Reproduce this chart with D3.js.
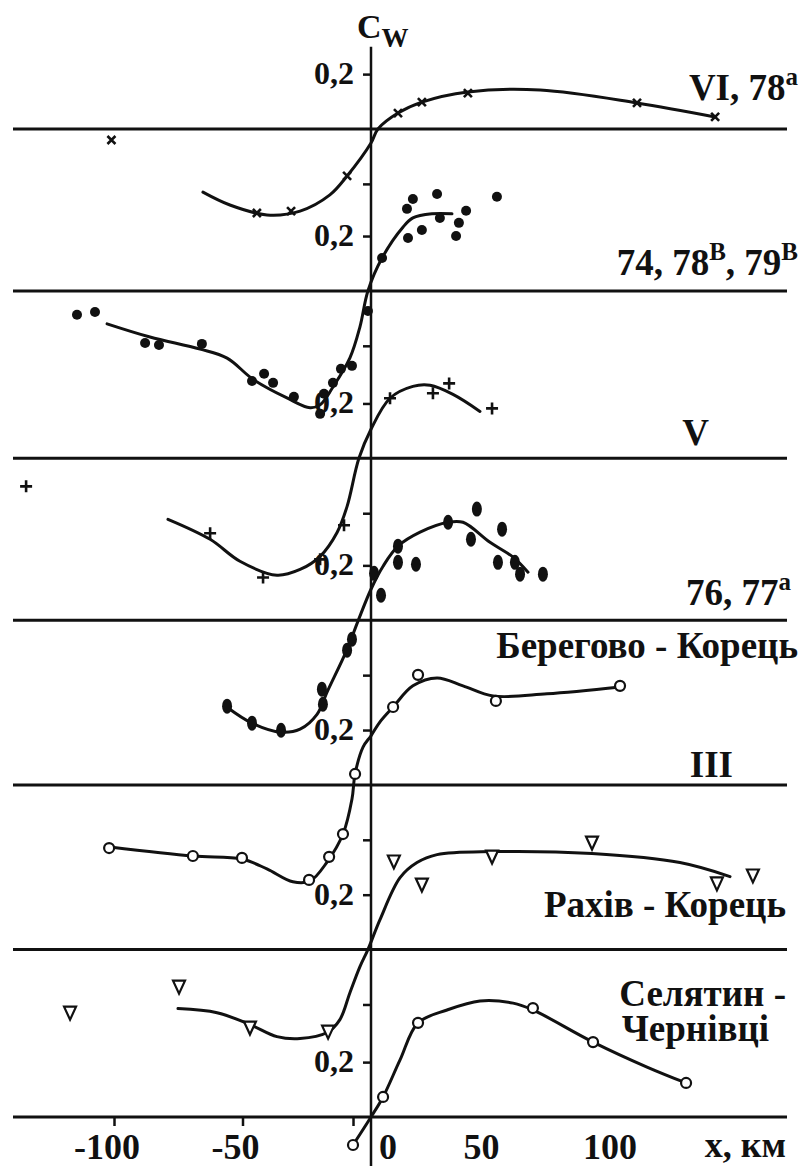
<!DOCTYPE html>
<html>
<head>
<meta charset="utf-8">
<script src="https://cdn.jsdelivr.net/npm/d3@7"></script>
<style>
  body { margin: 0; background: #fff; }
  svg { display: block; }
  text { font-family: "Liberation Serif", "Times New Roman", serif; font-weight: bold; fill: #111; }
</style>
</head>
<body>
<svg id="chart" width="799" height="1166"></svg>
<script>
// ---- axes --------------------------------------------------------------
const xTickValues = [-100, -50, -7];
const xTickLabels = [-100, -50, 0, 50, 100];
const yTickStep = 0.2;

// zero level of every stacked profile (Cw units, top to bottom)
const panelOffsets = [0, -0.59, -1.2, -1.79, -2.39, -2.99, -3.6];

// ---- profiles: [x km, Cw] ------------------------------------------------
// VI, 78a  (crosses)
const vi78Points = [[-101, -0.04], [-44.4, -0.306], [-31.1, -0.299], [-9.3, -0.171], [10.5, 0.058],
  [19.8, 0.098], [37.7, 0.131], [103.5, 0.095], [133.9, 0.044]];
const vi78Curve = [[-65.4, -0.23], [-54.9, -0.277], [-40.5, -0.313], [-27.6, -0.299], [-16, -0.24],
  [-9.3, -0.171], [0, -0.051], [2.7, 0], [10.5, 0.058], [19.8, 0.098], [37.7, 0.135], [65.8, 0.142],
  [103.5, 0.095], [133.9, 0.044]];

// 74, 78в, 79в  (dots)
const p74Points = [[-114.4, -0.087], [-107.4, -0.077], [-87.9, -0.19], [-82.5, -0.197], [-65.8, -0.193],
  [-46.3, -0.328], [-41.6, -0.302], [-38.1, -0.335], [-30, -0.386], [-19.8, -0.448], [-18.3, -0.375],
  [-14.8, -0.335], [-11.7, -0.284], [-7.4, -0.273], [-1.2, -0.073], [4.3, 0.12], [16.3, 0.335],
  [25.7, 0.353], [14, 0.299], [26.8, 0.266], [37, 0.292], [34.2, 0.248], [19.8, 0.222], [14.4, 0.193],
  [33.1, 0.2], [49, 0.343]];
const p74Curve = [[-102.7, -0.12], [-86, -0.168], [-66.5, -0.212], [-56, -0.245], [-45.9, -0.322],
  [-32.7, -0.39], [-23.7, -0.426], [-19.8, -0.415], [-14.8, -0.35], [-8.2, -0.244], [-4.3, -0.131],
  [-1.2, 0], [4.3, 0.12], [12.5, 0.233], [16.3, 0.266], [23.7, 0.281], [31.5, 0.281]];

// V  (plus signs)
const vPoints = [[-134.2, -0.102], [-62.6, -0.273], [-42, -0.434], [-19.8, -0.368], [-10.5, -0.244],
  [7.4, 0.219], [24.1, 0.237], [30.4, 0.273], [47.1, 0.182]];
const vCurve = [[-79, -0.222], [-62.6, -0.295], [-51, -0.375], [-36.6, -0.426], [-27.6, -0.405],
  [-19.8, -0.357], [-13.2, -0.27], [-9.3, -0.175], [-4.7, 0], [0, 0.106], [7.4, 0.219], [16.3, 0.262],
  [23, 0.266], [31.9, 0.233], [42.4, 0.171]];

// 76, 77a  (ovals)
const p76Points = [[-56, -0.313], [-46.3, -0.375], [-35, -0.401], [-19.1, -0.251], [-18.7, -0.306],
  [-9.3, -0.109], [-7.4, -0.069], [1.2, 0.171], [3.9, 0.091], [10.5, 0.27], [10.5, 0.211], [17.5, 0.204],
  [30, 0.357], [41.2, 0.405], [38.9, 0.295], [51, 0.332], [49.4, 0.211], [56, 0.211], [58, 0.168],
  [66.9, 0.168]];
const p76Curve = [[-56, -0.317], [-46.3, -0.375], [-35, -0.408], [-27.6, -0.397], [-21, -0.343],
  [-17.1, -0.262], [-9.3, -0.106], [-5.1, -0.004], [0, 0.113], [4.7, 0.197], [10.5, 0.27], [19.1, 0.321],
  [30, 0.357], [35.8, 0.357], [46.3, 0.284], [55.3, 0.23], [61.1, 0.175]];

// III, Берегово - Корець  (open circles)
const beregovoPoints = [[-101.9, -0.23], [-69.3, -0.259], [-50.2, -0.266], [-24.1, -0.346], [-16.3, -0.262],
  [-10.9, -0.179], [-6.2, 0.04], [8.6, 0.284], [18.3, 0.401], [48.6, 0.306], [96.9, 0.361]];
const beregovoCurve = [[-101.6, -0.226], [-69.3, -0.259], [-50.2, -0.27], [-40.5, -0.306], [-30.4, -0.353],
  [-23.7, -0.35], [-17.1, -0.281], [-10.9, -0.179], [-7.4, -0.051], [-6.2, 0.04], [-3.1, 0.138], [0, 0.179],
  [3.5, 0.23], [8.6, 0.284], [16.3, 0.361], [25.7, 0.39], [35.8, 0.361], [47.5, 0.324], [68.5, 0.332],
  [96.9, 0.357]];

// Рахів - Корець  (triangles)
const rakhivPoints = [[-117.1, -0.23], [-74.7, -0.135], [-47.1, -0.284], [-16.7, -0.299], [8.9, 0.321],
  [19.8, 0.237], [47.1, 0.339], [86, 0.39], [134.6, 0.241], [148.6, 0.27]];
const rakhivCurve = [[-75.1, -0.215], [-59.9, -0.23], [-47.1, -0.273], [-36.6, -0.317], [-27.6, -0.324],
  [-17.1, -0.302], [-12.1, -0.255], [-8.2, -0.157], [-4.3, -0.062], [-1.2, 0], [3.5, 0.109], [11.3, 0.262],
  [17.9, 0.317], [25.7, 0.346], [47.1, 0.357], [86, 0.35], [120.2, 0.317], [139.7, 0.266]];

// Селятин - Чернівці  (open circles)
const selyatynPoints = [[-7, -0.102], [4.7, 0.073], [18.3, 0.343], [63, 0.397], [86.4, 0.273], [122.6, 0.124]];
const selyatynCurve = [[-7, -0.102], [0, 0], [4.7, 0.073], [11.3, 0.208], [18.3, 0.343], [29.6, 0.39],
  [42.4, 0.423], [55.3, 0.415], [63, 0.39], [86.4, 0.273], [107.4, 0.182], [122.6, 0.124]];

const profiles = [
  { points: vi78Points, curve: vi78Curve, marker: "cross" },
  { points: p74Points, curve: p74Curve, marker: "dot" },
  { points: vPoints, curve: vCurve, marker: "plus" },
  { points: p76Points, curve: p76Curve, marker: "oval" },
  { points: beregovoPoints, curve: beregovoCurve, marker: "circle" },
  { points: rakhivPoints, curve: rakhivCurve, marker: "triangle" },
  { points: selyatynPoints, curve: selyatynCurve, marker: "circle" }
];

// ---- scales ----------------------------------------------------------------
const svg = d3.select("#chart");
const x = d3.scaleLinear().domain([-100, 0]).range([114, 371]);
const y = d3.scaleLinear().domain([0, -3.6]).range([129, 1117]);
const ink = "#111";

svg.append("rect").attr("width", 799).attr("height", 1166).attr("fill", "#fff");

// zero lines of the profiles (the last one doubles as the x axis)
svg.append("g").selectAll("line").data(panelOffsets).join("line")
  .attr("x1", 13).attr("x2", 787)
  .attr("y1", d => y(d)).attr("y2", d => y(d))
  .attr("stroke", ink).attr("stroke-width", 3);

// x axis ticks
const xAxis = svg.append("g")
  .attr("transform", `translate(0,${y(panelOffsets[panelOffsets.length - 1])})`)
  .call(d3.axisBottom(x).tickValues(xTickValues).tickSize(9).tickFormat(""));
xAxis.select(".domain").remove();
xAxis.selectAll(".tick line").attr("stroke", ink).attr("stroke-width", 2.5);

svg.append("g").selectAll("text").data(xTickLabels).join("text")
  .attr("x", d => x(d) + (d < 0 ? -7 : d === 0 ? 17 : -18))
  .attr("y", 1159)
  .attr("text-anchor", "middle")
  .style("font-size", "36px")
  .text(d => d < 0 ? "-" + Math.abs(d) : d);

svg.append("text").attr("x", 786).attr("y", 1157).attr("text-anchor", "end")
  .style("font-size", "36px").text("x, км");

// vertical Cw axis
const yTicks = [];
panelOffsets.forEach((o, i) => {
  yTicks.push(o + yTickStep);
  if (i < panelOffsets.length - 1) yTicks.push(o - yTickStep);
});
const yAxis = svg.append("g").attr("transform", `translate(${x(0)},0)`)
  .call(d3.axisLeft(y).tickValues(yTicks).tickSize(8).tickFormat(""));
yAxis.select(".domain").remove();
yAxis.selectAll(".tick line").attr("stroke", ink).attr("stroke-width", 2.5);

svg.append("line")
  .attr("x1", x(0)).attr("x2", x(0))
  .attr("y1", y(0.3)).attr("y2", 1166)
  .attr("stroke", ink).attr("stroke-width", 2.5);

svg.append("g").selectAll("text").data(panelOffsets.map(o => o + yTickStep)).join("text")
  .attr("x", x(0) - 17)
  .attr("y", d => y(d) + 10)
  .attr("text-anchor", "end")
  .style("font-size", "32px")
  .text(yTickStep.toFixed(1).replace(".", ","));

const cw = svg.append("text").attr("x", 357).attr("y", 38);
cw.append("tspan").style("font-size", "34px").text("C");
cw.append("tspan").style("font-size", "27px").attr("dy", 9).text("W");

// ---- profiles ---------------------------------------------------------------
const line = d3.line().curve(d3.curveCatmullRom.alpha(0.5));

const markerPath = {
  cross: "M-4,-4L4,4M-4,4L4,-4",
  plus: "M-6,0H6M0,-6V6",
  triangle: "M-6,-6L6,-6L0,7Z"
};

profiles.forEach((p, i) => {
  const off = panelOffsets[i];
  const g = svg.append("g");
  g.append("path")
    .attr("d", line(p.curve.map(([k, v]) => [x(k), y(v + off)])))
    .attr("fill", "none").attr("stroke", ink).attr("stroke-width", 3)
    .attr("stroke-linejoin", "round").attr("stroke-linecap", "round");

  const m = g.selectAll(".m").data(p.points).join("g")
    .attr("transform", ([k, v]) => `translate(${x(k)},${y(v + off)})`);
  if (p.marker === "dot") {
    m.append("circle").attr("r", 5).attr("fill", ink);
  } else if (p.marker === "oval") {
    m.append("ellipse").attr("rx", 5).attr("ry", 7.5).attr("fill", ink);
  } else if (p.marker === "circle") {
    m.append("circle").attr("r", 5).attr("fill", "#fff").attr("stroke", ink).attr("stroke-width", 2.2);
  } else if (p.marker === "triangle") {
    m.append("path").attr("d", markerPath.triangle).attr("fill", "#fff")
      .attr("stroke", ink).attr("stroke-width", 2.2).attr("stroke-linejoin", "miter");
  } else {
    m.append("path").attr("d", markerPath[p.marker]).attr("fill", "none")
      .attr("stroke", ink).attr("stroke-width", 2.6);
  }
});

// ---- profile captions ---------------------------------------------------------
// each caption: list of lines, each line a list of [text, isSuperscript] runs
function caption(xPos, yPos, lines, lineGap) {
  const t = svg.append("text").attr("x", xPos).attr("y", yPos)
    .attr("text-anchor", "end").style("font-size", "37px");
  lines.forEach((runs, li) => {
    runs.forEach(([s, sup], ri) => {
      const ts = t.append("tspan").text(s);
      if (ri === 0 && li > 0) ts.attr("x", xPos - (lineGap[1] || 0)).attr("dy", lineGap[0]);
      if (sup) ts.style("font-size", "25px").attr("baseline-shift", "60%");
    });
  });
}
caption(798, 100, [[["VI, 78"], ["а", true]]]);
caption(798, 275, [[["74, 78"], ["В", true], [", 79"], ["В", true]]]);
caption(709, 445, [[["V"]]]);
caption(791, 605, [[["76, 77"], ["а", true]]]);
caption(798, 658, [[["Берегово - Корець"]]]);
caption(733, 777, [[["III"]]]);
caption(786, 917, [[["Рахів - Корець"]]]);
caption(786, 1006, [[["Селятин -"]], [["Чернівці"]]], [35, 17]);
</script>
</body>
</html>
